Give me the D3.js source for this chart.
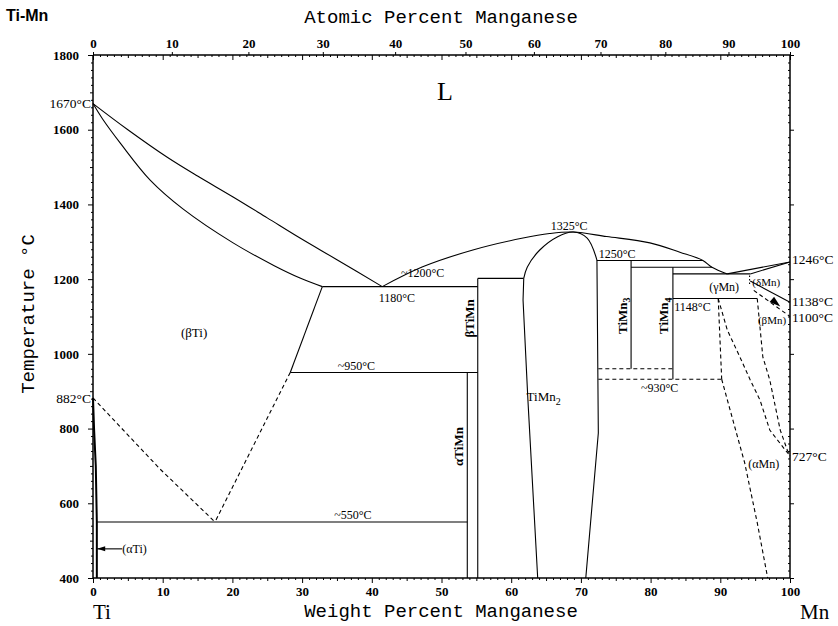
<!DOCTYPE html>
<html><head><meta charset="utf-8">
<script src="https://cdn.jsdelivr.net/npm/d3@7/dist/d3.min.js"></script>
<style>body{margin:0;background:#fff}svg{display:block}</style>
</head><body>
<script>
// ---- data (weight % Mn, temperature °C) ----
const wtTicks = [0,10,20,30,40,50,60,70,80,90,100];
const atTicks = [0,10,20,30,40,50,60,70,80,90,100];
const tempTicks = [400,600,800,1000,1200,1400,1600,1800];

const liquidusLeft = [[0,1670],[5,1600],[10.6,1527],[15,1476],[20.1,1420],[25,1364],[29.7,1310],[35,1252],[41.5,1180]];
const solidusLeft = [[0,1670],[1.4,1628],[4,1562],[8.2,1465],[12.9,1388],[20.1,1297],[26,1236],[29.7,1203],[32.9,1180]];
const liquidusRight = [[41.5,1180],[47.3,1233],[54.5,1278],[61.7,1310],[65.5,1322],[68.9,1326],[73.7,1314],[79.9,1297],[84.2,1272],[87.5,1250],[88.8,1232],[91.0,1214]];
const liquidusMn = [[91.0,1214],[100,1246]];
const solidusDeltaMn = [[94.3,1214],[100,1246]];
const tiMn2Left = [[63.8,400],[62.4,876],[61.7,1144],[61.8,1202]];
const tiMn2Dome = [[61.8,1202],[62.3,1232],[64.1,1278],[66.6,1313],[68.9,1326],[70.9,1310],[72.3,1251]];
const tiMn2Right = [[72.3,1251],[72.5,788],[70.7,400]];
const betaTiSolvus = [[32.9,1180],[28.3,950]];
const alphaTiSolvus = [[0,882],[0.15,800],[0.4,700],[0.55,550],[0.55,400]];
const solidSegments = [
  [[32.9,1180],[55.2,1180]],
  [[55.2,1202],[61.8,1202]],
  [[28.3,950],[55.2,950]],
  [[0.6,550],[53.7,550]],
  [[72.3,1250],[87.5,1250]],
  [[77.2,1232],[88.8,1232]],
  [[83.2,1214],[94.3,1214]],
  [[83.2,1148],[95.3,1148]],
  [[53.7,400],[53.7,950]],
  [[55.2,400],[55.2,1202]],
  [[77.2,960],[77.2,1250]],
  [[83.2,932],[83.2,1232]],
  [[94.3,1195],[100,1138]]
];
const dashedLines = [
  [[0,882],[9.6,692],[17.5,550]],
  [[28.3,950],[17.5,550]],
  [[72.5,960],[83.2,960]],
  [[72.5,932],[90.2,932]],
  [[89.7,1148],[90.2,932]],
  [[90.2,932],[91.8,823],[93.5,708],[95.3,548],[96.8,400]],
  [[89.7,1148],[91.0,1064],[92.8,992],[94.3,930],[95.7,876],[97.1,796],[99.3,743],[100,727]],
  [[95.3,1148],[96.1,992],[97.1,930],[98.6,796],[99.6,743],[100,727]],
  [[94.8,1170],[100,1100]]
];
const dottedLines = [[[94.2,1210],[94.2,1185]]];

const plotLabels = [
  {t:"L", x:50.5, T:1680, size:26, anchor:"middle"},
  {t:"(βTi)", x:14.5, T:1045, size:13, anchor:"middle"},
  {t:"~950°C", x:37.8, T:958, size:12, anchor:"middle"},
  {t:"~1200°C", x:47.3, T:1207, size:12, anchor:"middle"},
  {t:"1180°C", x:43.6, T:1140, size:12, anchor:"middle"},
  {t:"1325°C", x:68.3, T:1332, size:12, anchor:"middle"},
  {t:"1250°C", x:75.2, T:1256, size:12, anchor:"middle"},
  {t:"1148°C", x:83.4, T:1116, size:12, anchor:"start"},
  {t:"~930°C", x:81.3, T:898, size:12, anchor:"middle"},
  {t:"~550°C", x:37.3, T:558, size:12, anchor:"middle"},
  {t:"(γMn)", x:88.4, T:1168, size:12, anchor:"start"},
  {t:"(δMn)", x:94.6, T:1182, size:11, anchor:"start"},
  {t:"(βMn)", x:95.4, T:1080, size:11, anchor:"start"},
  {t:"(αMn)", x:94.0, T:695, size:12, anchor:"start"},
  {t:"(αTi)", x:4.2, T:467, size:12, anchor:"start"}
];
const vertLabels = [
  {t:"αTiMn", x:52.5, T:752},
  {t:"βTiMn", x:54.0, T:1095},
  {t:"TiMn", sub:"3", x:75.9, T:1102},
  {t:"TiMn", sub:"4", x:81.9, T:1102}
];
const edgeLabelsLeft = [{t:"1670°C", T:1670},{t:"882°C", T:882}];
const edgeLabelsRight = [{t:"1246°C", T:1252},{t:"1138°C", T:1140},{t:"1100°C", T:1097},{t:"727°C", T:727}];

// ---- drawing ----
const W = 838, H = 626;
const svg = d3.select("body").append("svg").attr("width", W).attr("height", H);
const x = d3.scaleLinear().domain([0,100]).range([93,790]);
const y = d3.scaleLinear().domain([400,1800]).range([578,55]);
const mMn = 54.938, mTi = 47.867;
const at2wt = a => a*mMn/(a*mMn + (100-a)*mTi)*100;

const serif = "'Liberation Serif','DejaVu Serif',serif";
const mono = "'Liberation Mono','DejaVu Sans Mono',monospace";

// frame lines
const g = svg.append("g");
g.append("line").attr("x1",x(0)).attr("x2",x(100)).attr("y1",y(400)).attr("y2",y(400)).attr("stroke","#000").attr("stroke-width",1.5);
g.append("line").attr("x1",x(0)).attr("x2",x(100)).attr("y1",y(1800)).attr("y2",y(1800)).attr("stroke","#000").attr("stroke-width",1.5);
g.append("line").attr("x1",x(0)).attr("x2",x(0)).attr("y1",y(400)).attr("y2",y(1800)).attr("stroke","#000").attr("stroke-width",1.5);
g.append("line").attr("x1",x(100)).attr("x2",x(100)).attr("y1",y(400)).attr("y2",y(1800)).attr("stroke","#000").attr("stroke-width",1.5);

// bottom axis (weight %)
svg.append("g").attr("transform",`translate(0,${y(400)})`)
  .call(d3.axisBottom(x).tickValues(wtTicks).tickSize(5).tickPadding(4).tickFormat(d3.format("d")));
const bottomMinor = svg.append("g").attr("transform",`translate(0,${y(400)})`)
  .call(d3.axisBottom(x).tickValues(d3.range(0,101,1).filter(v=>v%10)).tickSize(2).tickFormat(""));
bottomMinor.selectAll(".tick").filter(d=>d%5===0).select("line").attr("y2",3);
// top axis: weight ticks inside, atomic labels outside
const topMinor = svg.append("g").attr("transform",`translate(0,${y(1800)})`)
  .call(d3.axisBottom(x).tickValues(d3.range(0,101,1)).tickSize(2).tickFormat(""));
topMinor.selectAll(".tick").filter(d=>d%10===0).select("line").attr("y2",5);
topMinor.selectAll(".tick").filter(d=>d%5===0 && d%10).select("line").attr("y2",3);
svg.append("g").attr("transform",`translate(0,${y(1800)})`)
  .call(d3.axisTop(x).tickValues(atTicks.map(at2wt)).tickSize(3).tickPadding(4)
    .tickFormat((d,i)=>atTicks[i]));
// left axis
svg.append("g").attr("transform",`translate(${x(0)},0)`)
  .call(d3.axisLeft(y).tickValues(tempTicks).tickSize(5).tickPadding(9).tickFormat(d3.format("d")));
const leftMinor = svg.append("g").attr("transform",`translate(${x(0)},0)`)
  .call(d3.axisLeft(y).tickValues(d3.range(400,1801,20).filter(v=>v%200)).tickSize(2).tickFormat(""));
leftMinor.selectAll(".tick").filter(d=>d%100===0).select("line").attr("x2",-3);
// right axis
svg.append("g").attr("transform",`translate(${x(100)},0)`)
  .call(d3.axisRight(y).tickValues(tempTicks).tickSize(4).tickFormat(""));
svg.append("g").attr("transform",`translate(${x(100)},0)`)
  .call(d3.axisLeft(y).tickValues(d3.range(400,1801,20).filter(v=>v%200)).tickSize(2).tickFormat(""));

svg.selectAll(".domain").remove();
svg.selectAll(".tick line").attr("stroke","#000");
svg.selectAll(".tick text").attr("font-family",serif).attr("font-size",13).attr("font-weight","bold").attr("fill","#000");

// axis titles
svg.append("text").attr("x",441).attr("y",23).attr("text-anchor","middle").attr("font-family",mono).attr("font-size",19).text("Atomic Percent Manganese");
svg.append("text").attr("x",441).attr("y",617).attr("text-anchor","middle").attr("font-family",mono).attr("font-size",19).text("Weight Percent Manganese");
svg.append("text").attr("transform","translate(34,314) rotate(-90)").attr("text-anchor","middle").attr("font-family",mono).attr("font-size",19).text("Temperature °C");
svg.append("text").attr("x",6).attr("y",21).attr("font-family","'Liberation Sans',Arial,sans-serif").attr("font-weight","bold").attr("font-size",16).text("Ti-Mn");
svg.append("text").attr("x",x(0)).attr("y",619).attr("font-family",serif).attr("font-size",21).text("Ti");
svg.append("text").attr("x",800).attr("y",619).attr("font-family",serif).attr("font-size",21).text("Mn");

// phase lines
const lineGen = d3.line().x(d=>x(d[0])).y(d=>y(d[1]));
const curveGen = d3.line().x(d=>x(d[0])).y(d=>y(d[1])).curve(d3.curveCatmullRom.alpha(0.5));
const P = svg.append("g").attr("fill","none").attr("stroke","#000").attr("stroke-width",1.1);
[liquidusLeft, solidusLeft, liquidusRight].forEach(d=>P.append("path").attr("d",curveGen(d)));
P.append("path").attr("d",curveGen(tiMn2Dome));
[liquidusMn, solidusDeltaMn, tiMn2Left, tiMn2Right, betaTiSolvus].forEach(d=>P.append("path").attr("d",lineGen(d)));
P.append("path").attr("d",lineGen(alphaTiSolvus)).attr("stroke-width",2);
solidSegments.forEach(d=>P.append("path").attr("d",lineGen(d)));
dashedLines.forEach(d=>P.append("path").attr("d",lineGen(d)).attr("stroke-dasharray","4,3"));
dottedLines.forEach(d=>P.append("path").attr("d",lineGen(d)).attr("stroke-dasharray","1.5,2"));

// arrow heads
const arrowG = svg.append("g").attr("fill","#000");
function arrow(tip, from, len, wid){
  const tx=x(tip[0]), ty=y(tip[1]), fx=x(from[0]), fy=y(from[1]);
  const dx=tx-fx, dy=ty-fy, L=Math.hypot(dx,dy), ux=dx/L, uy=dy/L;
  const bx=tx-ux*len, by=ty-uy*len;
  arrowG.append("path").attr("d",`M${tx},${ty}L${bx-uy*wid},${by+ux*wid}L${bx+uy*wid},${by-ux*wid}Z`);
}
arrow([98.6,1127],[94.3,1195],11,3.5);
// (αTi) pointer
P.append("path").attr("d",lineGen([[0.6,478],[4.2,478]]));
arrow([0.6,478],[4.2,478],8,2.5);

// labels
const L = svg.append("g").attr("font-family",serif).attr("fill","#000");
plotLabels.forEach(d=>L.append("text").attr("x",x(d.x)).attr("y",y(d.T)).attr("text-anchor",d.anchor).attr("font-size",d.size).text(d.t));
vertLabels.forEach(d=>{
  const t = L.append("text").attr("transform",`translate(${x(d.x)},${y(d.T)}) rotate(-90)`).attr("text-anchor","middle").attr("dominant-baseline","central").attr("font-size",13).attr("font-weight","bold").text(d.t);
  if(d.sub) t.append("tspan").attr("font-size",10).attr("dy",4).text(d.sub);
});
const tm = L.append("text").attr("x",x(62.2)).attr("y",y(873)).attr("font-size",13).text("TiMn");
tm.append("tspan").attr("font-size",10).attr("dy",4).text("2");
edgeLabelsLeft.forEach(d=>L.append("text").attr("x",x(0)-2).attr("y",y(d.T)).attr("dy","0.35em").attr("text-anchor","end").attr("font-size",13.5).text(d.t));
edgeLabelsRight.forEach(d=>L.append("text").attr("x",x(100)+2).attr("y",y(d.T)).attr("dy","0.35em").attr("text-anchor","start").attr("font-size",13.5).text(d.t));
</script>
</body></html>
